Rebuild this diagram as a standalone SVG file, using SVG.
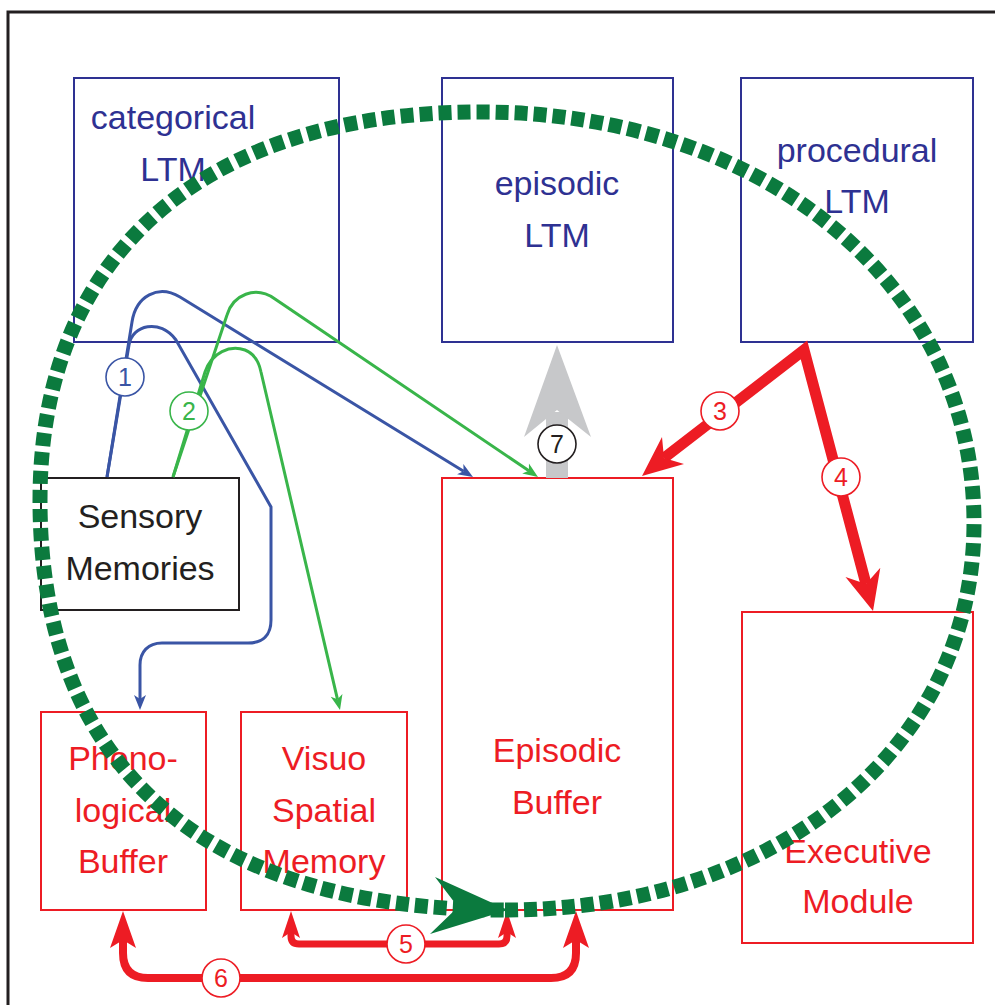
<svg xmlns="http://www.w3.org/2000/svg" width="995" height="1005" viewBox="0 0 995 1005">
<style>
text{font-family:"Liberation Sans",Arial,sans-serif;font-size:34px;text-anchor:middle}
.bb{fill:#fff;stroke:#2e3192;stroke-width:2}
.rb{fill:#fff;stroke:#ed1c24;stroke-width:2}
.kb{fill:#fff;stroke:#231f20;stroke-width:2}
.bt{fill:#2e3192}
.rt{fill:#ed1c24}
.kt{fill:#231f20}
.num{font-size:25px}
.lb{fill:#fff;stroke-width:1.6}
.blue{fill:none;stroke:#3a55a5;stroke-width:3}
.green{fill:none;stroke:#39b54a;stroke-width:3}
.red{fill:none;stroke:#ed1c24}
</style>
<defs>
<marker id="mb" markerUnits="userSpaceOnUse" viewBox="0 0 20 16" markerWidth="20" markerHeight="16" refX="5" refY="8" orient="auto"><path d="M1,2 L16,8 L1,14 L5,8 z" fill="#3a55a5"/></marker>
<marker id="mg" markerUnits="userSpaceOnUse" viewBox="0 0 20 16" markerWidth="20" markerHeight="16" refX="5" refY="8" orient="auto"><path d="M1,2 L16,8 L1,14 L5,8 z" fill="#39b54a"/></marker>
</defs>
<rect x="8" y="12" width="1000" height="1000" fill="#fff" stroke="#231f20" stroke-width="3"/>

<g id="categorical-ltm"><rect class="bb" x="74" y="78" width="265" height="264"/><text class="bt" x="173" y="129">categorical</text><text class="bt" x="173" y="181">LTM</text></g>
<g id="episodic-ltm"><rect class="bb" x="442" y="78" width="231" height="264"/><text class="bt" x="557" y="195">episodic</text><text class="bt" x="557" y="247">LTM</text></g>
<g id="procedural-ltm"><rect class="bb" x="741" y="78" width="232" height="264"/><text class="bt" x="857" y="162">procedural</text><text class="bt" x="857" y="213">LTM</text></g>
<g id="sensory-memories"><rect class="kb" x="41" y="478" width="198" height="132"/><text class="kt" x="140" y="528">Sensory</text><text class="kt" x="140" y="580">Memories</text></g>
<g id="phonological-buffer"><rect class="rb" x="41" y="712" width="165" height="198"/><text class="rt" x="123" y="770">Phono-</text><text class="rt" x="123" y="822">logical</text><text class="rt" x="123" y="873">Buffer</text></g>
<g id="visuo-spatial-memory"><rect class="rb" x="241" y="712" width="166" height="198"/><text class="rt" x="324" y="770">Visuo</text><text class="rt" x="324" y="822">Spatial</text><text class="rt" x="324" y="873">Memory</text></g>
<g id="episodic-buffer"><rect class="rb" x="442" y="478" width="231" height="432"/><text class="rt" x="557" y="762">Episodic</text><text class="rt" x="557" y="814">Buffer</text></g>
<g id="executive-module"><rect class="rb" x="742" y="612" width="231" height="331"/><text class="rt" x="858" y="863">Executive</text><text class="rt" x="858" y="913">Module</text></g>

<g id="connectors">
<path class="blue" d="M107,477 L132,322 C136,296 158,284 180,297 L463.6,471.2" marker-end="url(#mb)"/>
<path class="blue" d="M107,477 L129,345 C132,325 160,318 176,340 L254,477 L271,507 L271,620 C271,635 263,643 248,643 L162,643 C148,643 140,652 140,665 L140,699" marker-end="url(#mb)"/>
<path class="green" d="M173,477 L227,315 C233,295 255,285 275,299 L528.9,470.8" marker-end="url(#mg)"/>
<path class="green" d="M173,477 L205,372 C212,352 230,345 245,350 C255,354 259,362 261,372 L337.5,699.3" marker-end="url(#mg)"/>

<g id="arrow7"><rect x="546" y="412" width="22" height="66" fill="#c7c8ca"/><polygon points="557,345 591,437 557,410 524,437" fill="#c7c8ca"/></g>

<g id="arrows3-4">
<path class="red" d="M664,458 L804,350 L866,584" stroke-width="11" stroke-linejoin="miter"/>
<polygon points="642,476 684,464 664,458 662,437" fill="#ed1c24"/>
<polygon points="873,611 845.5,577 866,584 880.3,567.7" fill="#ed1c24"/>
</g>
<g id="arrow5">
<path class="red" d="M291,932 L291,936 Q291,944 299,944 L499,944 Q507,944 507,936 L507,932" stroke-width="7"/>
<polygon points="291,911 300,938 291,932 282,938" fill="#ed1c24"/>
<polygon points="507,911 516,938 507,932 498,938" fill="#ed1c24"/>
</g>
<g id="arrow6">
<path class="red" d="M123,940 L123,953 Q123,978 148,978 L551,978 Q576,978 576,953 L576,940" stroke-width="8"/>
<polygon points="123,911 136,948 123,940 110,948" fill="#ed1c24"/>
<polygon points="576,911 589,948 576,940 563,948" fill="#ed1c24"/>
</g>

<g id="labels">
<circle class="lb" cx="125" cy="377" r="19" stroke="#3a55a5"/><text class="num" x="125" y="386" fill="#3a55a5">1</text>
<circle class="lb" cx="189" cy="411" r="19" stroke="#39b54a"/><text class="num" x="189" y="420" fill="#39b54a">2</text>
<circle class="lb" cx="720" cy="411" r="19" stroke="#ed1c24"/><text class="num" x="720" y="420" fill="#ed1c24">3</text>
<circle class="lb" cx="841" cy="477" r="19" stroke="#ed1c24"/><text class="num" x="841" y="486" fill="#ed1c24">4</text>
<circle class="lb" cx="406" cy="944" r="19" stroke="#ed1c24"/><text class="num" x="406" y="953" fill="#ed1c24">5</text>
<circle class="lb" cx="221" cy="978" r="19" stroke="#ed1c24"/><text class="num" x="221" y="987" fill="#ed1c24">6</text>
<circle class="lb" cx="557" cy="444" r="19" stroke="#231f20"/><text class="num" x="557" y="453" fill="#231f20">7</text>
</g>

<g id="cycle">
<path d="M505,910 C777.6,910 974,747.5 974,523 C974,283 763,112 480,112 C202.8,112 40,255 40,500 C40,766.5 202.75,910 505,910" fill="none" stroke="#0b7a3e" stroke-width="15" stroke-dasharray="13 6"/>
<polygon points="508,910 435,877 458,907 430,934" fill="#0b7a3e"/>
</g>
</g>
</svg>
